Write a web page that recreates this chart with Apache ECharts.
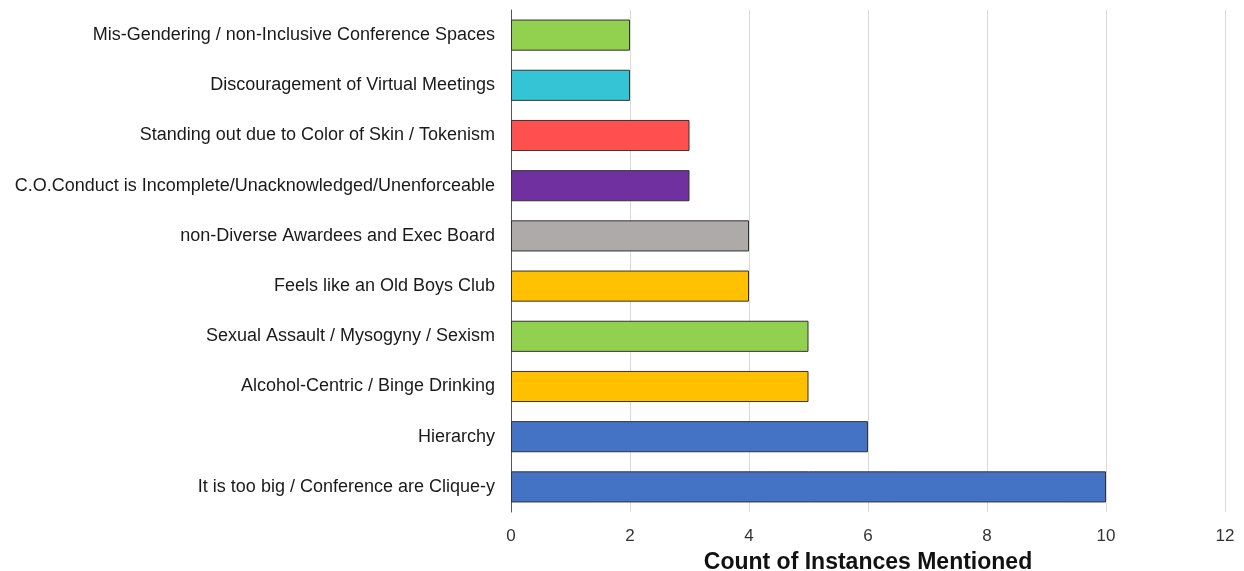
<!DOCTYPE html>
<html><head><meta charset="utf-8">
<script src="https://cdn.jsdelivr.net/npm/echarts@6/dist/echarts.min.js"></script>
<style>html,body{margin:0;padding:0;background:#fff}#c{width:1244px;height:571px}</style>
</head><body><div id="c"></div>
<script>
const categories = [
  "It is too big / Conference are Clique-y",
  "Hierarchy",
  "Alcohol-Centric / Binge Drinking",
  "Sexual Assault / Mysogyny / Sexism",
  "Feels like an Old Boys Club",
  "non-Diverse Awardees and Exec Board",
  "C.O.Conduct is Incomplete/Unacknowledged/Unenforceable",
  "Standing out due to Color of Skin / Tokenism",
  "Discouragement of Virtual Meetings",
  "Mis-Gendering / non-Inclusive Conference Spaces"
];
const counts = [10, 6, 5, 5, 4, 4, 3, 3, 2, 2];
const barColors = ["#4472c4","#4472c4","#ffc000","#92d050","#ffc000","#aeaaaa","#7030a0","#ff5050","#33c5d6","#92d050"];
const xTicks = [0, 2, 4, 6, 8, 10, 12];

const chart = echarts.init(document.getElementById('c'));
chart.setOption({
  animation: false,
  grid: { left: 511, right: 19, top: 10, bottom: 59, containLabel: false, outerBoundsMode: 'none' },
  xAxis: {
    type: 'value', min: 0, max: 12, interval: 2,
    name: 'Count of Instances Mentioned', nameLocation: 'middle', nameGap: 39,
    nameTextStyle: { fontFamily: 'Liberation Sans, Arial', fontSize: 23, fontWeight: 'bold', color: '#111' },
    axisLine: { show: false }, axisTick: { show: false },
    axisLabel: { fontFamily: 'Liberation Sans, Arial', fontSize: 17, color: '#333', margin: 16 },
    splitLine: { show: true, lineStyle: { color: '#d9d9d9', width: 1 } }
  },
  yAxis: {
    type: 'category', data: categories,
    axisLine: { show: true, lineStyle: { color: '#555', width: 1 } },
    axisTick: { show: false },
    axisLabel: { fontFamily: 'Liberation Sans, Arial', fontSize: 18, color: '#1a1a1a', margin: 16 }
  },
  series: [{
    type: 'bar',
    data: counts.map((v, i) => ({ value: v, itemStyle: { color: barColors[i] } })),
    barCategoryGap: '38%',
    itemStyle: { borderColor: '#333', borderWidth: 1 }
  }]
});
</script></body></html>
